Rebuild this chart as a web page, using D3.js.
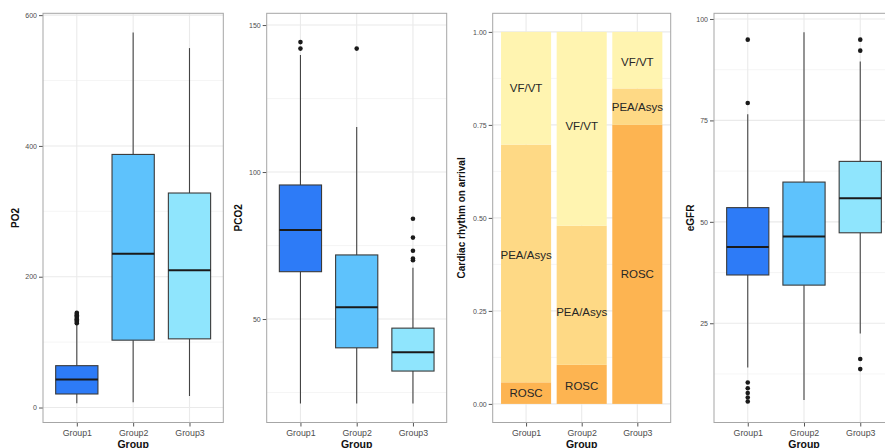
<!DOCTYPE html>
<html><head><meta charset="utf-8">
<script src="https://cdn.jsdelivr.net/npm/d3@7"></script>
<style>body{margin:0;background:#fff;} svg{display:block;font-family:"Liberation Sans",Arial,sans-serif;}</style>
</head><body>
<svg id="c" width="885" height="448"></svg>
<script>
// ---------- DATA ----------
const groups = ["Group1", "Group2", "Group3"];
const groupColors = ["#2D7BF7", "#5EC2FC", "#8FE5FD"];

// box stats: [lowerWhisker, Q1, median, Q3, upperWhisker]
const po2Box = [[6.4, 20.7, 43, 64, 126], [8, 103, 235, 387, 573.5], [17.6, 105, 210, 328, 549.6]];
const po2Out = [[129, 131, 133, 135, 137, 139, 141, 143, 145], [], []];
const po2Ticks = [0, 200, 400, 600];
const po2Minor = [100, 300, 500];

const pco2Box = [[21.3, 66.1, 80.3, 95.6, 139.8], [21.3, 40.2, 54, 71.8, 115.3], [21.3, 32.3, 38.7, 46.9, 67.4]];
const pco2Out = [[142, 144.2], [142], [70, 70.6, 73.2, 77.7, 84.1]];
const pco2Ticks = [50, 100, 150];
const pco2Minor = [25, 75, 125];

const rhythmCats = ["ROSC", "PEA/Asys", "VF/VT"];
const rhythmColors = ["#FDB451", "#FED985", "#FFF4B0"];
const roscProp = [0.058, 0.105, 0.75];
const peaProp = [0.639, 0.374, 0.098];
const vfProp = [0.303, 0.521, 0.152];
const roscLabelAt = [0.029, 0.049, 0.35];
const peaLabelAt = [0.401, 0.248, 0.798];
const vfLabelAt = [0.849, 0.748, 0.919];
const rhythmTicks = [0, 0.25, 0.5, 0.75, 1];
const rhythmMinor = [0.125, 0.375, 0.625, 0.875];

const egfrBox = [[14.1, 36.9, 43.8, 53.5, 76.5], [6.1, 34.4, 46.4, 59.8, 96.7], [22.5, 47.3, 55.8, 64.9, 89.5]];
const egfrOut = [[5.7, 6.7, 7.8, 9.0, 10.4, 79.3, 94.9], [], [13.7, 16.2, 92.2, 94.9]];
const egfrTicks = [25, 50, 75, 100];
const egfrMinor = [12.5, 37.5, 62.5, 87.5];

// ---------- DRAW ----------
const svg = d3.select("#c");
const plotTop = 13.3, plotBottom = 422.5;

function panel(x0, x1, domain, ticks, minor, fmt, title, titleX) {
  const g = svg.append("g");
  const x = d3.scalePoint().domain(groups).range([x0, x1]).padding(0.6);
  const y = d3.scaleLinear().domain(domain).range([plotBottom, plotTop]);
  g.selectAll(".mn").data(minor).join("line")
    .attr("x1", x0).attr("x2", x1).attr("y1", d => y(d)).attr("y2", d => y(d))
    .attr("stroke", "#F2F2F2").attr("stroke-width", 0.8);
  g.selectAll(".mj").data(ticks).join("line")
    .attr("x1", x0).attr("x2", x1).attr("y1", d => y(d)).attr("y2", d => y(d))
    .attr("stroke", "#EAEAEA").attr("stroke-width", 1.1);
  g.selectAll(".vx").data(groups).join("line")
    .attr("x1", d => x(d)).attr("x2", d => x(d)).attr("y1", plotTop).attr("y2", plotBottom)
    .attr("stroke", "#EAEAEA").attr("stroke-width", 1.1);
  const ya = g.append("g").attr("transform", `translate(${x0},0)`)
    .call(d3.axisLeft(y).tickValues(ticks).tickFormat(fmt).tickSize(4).tickPadding(2));
  ya.select(".domain").remove();
  ya.selectAll("line").attr("stroke", "#555");
  ya.selectAll("text").attr("font-size", 7).attr("fill", "#4D4D4D");
  const xa = g.append("g").attr("transform", `translate(0,${plotBottom})`)
    .call(d3.axisBottom(x).tickSize(4).tickPadding(3));
  xa.select(".domain").remove();
  xa.selectAll("line").attr("stroke", "#555");
  xa.selectAll("text").attr("font-size", 8.8).attr("fill", "#4D4D4D");
  g.append("text").attr("x", (x0 + x1) / 2).attr("y", 447.5).attr("text-anchor", "middle")
    .attr("font-size", 10.5).attr("font-weight", "bold").attr("fill", "#111").text("Group");
  g.append("text").attr("transform", `translate(${titleX},${(plotTop + plotBottom) / 2}) rotate(-90)`)
    .attr("text-anchor", "middle").attr("dy", "0.35em")
    .attr("font-size", 10).attr("font-weight", "bold").attr("fill", "#111").text(title);
  return {g, x, y, x0, x1};
}

function border(p) {
  p.g.append("rect").attr("x", p.x0).attr("y", plotTop).attr("width", p.x1 - p.x0).attr("height", plotBottom - plotTop)
    .attr("fill", "none").attr("stroke", "#A6A6A6").attr("stroke-width", 1);
}

function boxes(p, stats, outs) {
  const bw = p.x.step() * 0.75;
  groups.forEach((grp, i) => {
    const s = stats[i], cx = p.x(grp);
    p.g.append("line").attr("x1", cx).attr("x2", cx).attr("y1", p.y(s[0])).attr("y2", p.y(s[1]))
      .attr("stroke", "#444").attr("stroke-width", 1.1);
    p.g.append("line").attr("x1", cx).attr("x2", cx).attr("y1", p.y(s[3])).attr("y2", p.y(s[4]))
      .attr("stroke", "#444").attr("stroke-width", 1.1);
    p.g.append("rect").attr("x", cx - bw / 2).attr("width", bw)
      .attr("y", p.y(s[3])).attr("height", p.y(s[1]) - p.y(s[3]))
      .attr("fill", groupColors[i]).attr("stroke", "#3A3A3A").attr("stroke-width", 1.1);
    p.g.append("line").attr("x1", cx - bw / 2).attr("x2", cx + bw / 2).attr("y1", p.y(s[2])).attr("y2", p.y(s[2]))
      .attr("stroke", "#1A1A1A").attr("stroke-width", 2);
    p.g.selectAll(null).data(outs[i]).join("circle")
      .attr("cx", cx).attr("cy", d => p.y(d)).attr("r", 2.3).attr("fill", "#1A1A1A");
  });
}

const p1 = panel(43, 223.3, [-22.9, 602.8], po2Ticks, po2Minor, d3.format("d"), "PO2", 15);
boxes(p1, po2Box, po2Out); border(p1);

const p2 = panel(266.7, 446.7, [14.8, 154.0], pco2Ticks, pco2Minor, d3.format("d"), "PCO2", 238.5);
boxes(p2, pco2Box, pco2Out); border(p2);

const p3 = panel(492.7, 670.7, [-0.05, 1.05], rhythmTicks, rhythmMinor, d3.format(".2f"), "Cardiac rhythm on arrival", 461);
{
  const bw = p3.x.step() * 0.9;
  const props = [roscProp, peaProp, vfProp];
  const labs = [roscLabelAt, peaLabelAt, vfLabelAt];
  groups.forEach((grp, i) => {
    let cum = 0;
    props.forEach((arr, k) => {
      const v = arr[i];
      p3.g.append("rect").attr("x", p3.x(grp) - bw / 2).attr("width", bw)
        .attr("y", p3.y(cum + v)).attr("height", p3.y(cum) - p3.y(cum + v))
        .attr("fill", rhythmColors[k]);
      cum += v;
    });
    labs.forEach((arr, k) => {
      p3.g.append("text").attr("x", p3.x(grp)).attr("y", p3.y(arr[i])).attr("dy", "0.36em")
        .attr("text-anchor", "middle").attr("font-size", 11.5).attr("fill", "#262626").text(rhythmCats[k]);
    });
  });
  border(p3);
}

const p4 = panel(714, 894, [0.54, 101.4], egfrTicks, egfrMinor, d3.format("d"), "eGFR", 690);
boxes(p4, egfrBox, egfrOut); border(p4);
</script>
</body></html>
